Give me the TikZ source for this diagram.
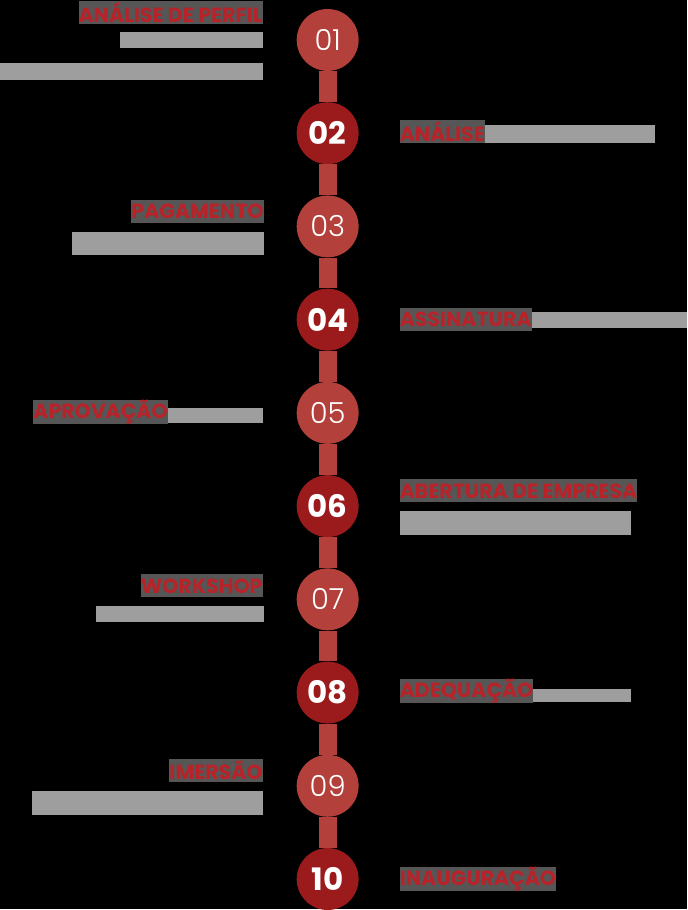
\documentclass[tikz,border=0pt]{standalone}
\usepackage{fontspec}
\setmainfont{Poppins}
\newfontfamily\numlight{Poppins Light}
\usetikzlibrary{positioning}
\definecolor{stepred}{HTML}{B3403B}
\definecolor{stepdark}{HTML}{9B1B1C}
\definecolor{titlered}{HTML}{B8232A}
\definecolor{titlebg}{HTML}{565656}
\definecolor{bodygrey}{HTML}{9E9E9E}
\tikzset{
  stepodd/.style={circle,fill=stepred,minimum size=62pt,inner sep=0pt,text=white,font=\numlight\fontsize{29}{29}\selectfont},
  stepeven/.style={circle,fill=stepdark,minimum size=62pt,inner sep=0pt,text=white,font=\bfseries\fontsize{31}{31}\selectfont},
  steptitle/.style={fill=titlebg,text=titlered,inner xsep=0pt,inner ysep=0pt,minimum height=23pt,font=\bfseries\fontsize{20.5}{20.5}\selectfont},
  titleleft/.style={steptitle,anchor=east},
  titleright/.style={steptitle,anchor=west},
  steplink/.style={line width=18pt,stepred},
  bodybar/.style={fill=bodygrey}
}

\begin{document}
\begin{tikzpicture}[x=1pt,y=-1pt]
  \fill[black] (0,0) rectangle (688,910);
  % the ten steps sit on one vertical axis, light and dark in turn
  \foreach \i/\lab in {1/01,3/03,5/05,7/07,9/09}
    \node[stepodd] (c\i) at (328,{40+(\i-1)*93.33}) {\lab};
  \foreach \i/\lab in {2/02,4/04,6/06,8/08,10/10}
    \node[stepeven] (c\i) at (328,{40+(\i-1)*93.33}) {\lab};
  \foreach \i [evaluate=\i as \j using int(\i+1)] in {1,...,9}
    \draw[steplink] (c\i.south) -- (c\j.north);

  \node[titleleft] (t1) at (263,12.5) {ANÁLISE DE PERFIL};
  \fill[bodybar] (120,32) rectangle (263,48);
  \fill[bodybar] (0,63) rectangle (263,80);

  \node[titleright] (t2) at (400,131.5) {ANÁLISE};
  \fill[bodybar] (t2.east |- 0,125) rectangle (656,143);

  \node[titleleft] (t3) at (264,211.5) {PAGAMENTO};
  \fill[bodybar] (72,232) rectangle (264,255);

  \node[titleright] (t4) at (400,320) {ASSINATURA};
  \fill[bodybar] (t4.east |- 0,312) rectangle (688,328);

  \node[titleleft] (t5) at (168,412.5) {APROVAÇÃO};
  \fill[bodybar] (t5.east |- 0,408) rectangle (263,423);

  \node[titleright] (t6) at (400,491.5) {ABERTURA DE EMPRESA};
  \fill[bodybar] (400,512) rectangle (632,536);

  \node[titleleft] (t7) at (263,586.5) {WORKSHOP};
  \fill[bodybar] (96,607) rectangle (264,623);

  \node[titleright] (t8) at (400,691.5) {ADEQUAÇÃO};
  \fill[bodybar] (t8.east |- 0,690) rectangle (632,703);

  \node[titleleft] (t9) at (263,771.5) {IMERSÃO};
  \fill[bodybar] (32,792) rectangle (263,816);

  \node[titleright] (t10) at (400,879.5) {INAUGURAÇÃO};
\end{tikzpicture}
\end{document}
